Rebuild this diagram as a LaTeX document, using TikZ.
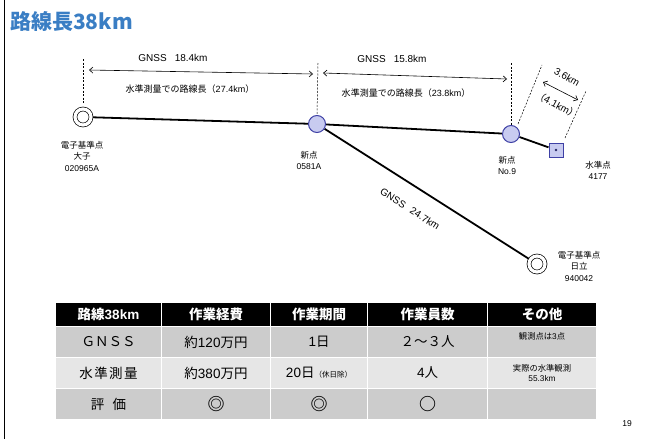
\documentclass[tikz,border=0pt]{standalone}
\usepackage{fontspec}
\setmainfont{Liberation Sans}
\newfontfamily\jp{Noto Sans CJK JP}
\usetikzlibrary{arrows.meta,backgrounds}
\definecolor{titleblue}{RGB}{58,126,196}
\definecolor{ptfill}{RGB}{200,203,240}
\definecolor{ptdraw}{RGB}{62,64,165}
\definecolor{rowA}{RGB}{204,204,204}
\definecolor{rowB}{RGB}{230,230,230}
\begin{document}
\begin{tikzpicture}[x=1pt,y=-1pt,
  gsr/.style={circle, draw=black, fill=white, line width=0.7pt, double=white, double distance=3.2pt, minimum size=16pt, inner sep=0pt},
  newpt/.style={circle, draw=ptdraw, fill=ptfill, line width=1pt, minimum size=17pt, inner sep=0pt},
  bmpt/.style={rectangle, draw=ptdraw, fill=ptfill, line width=1pt, minimum size=14pt, inner sep=0pt},
  bmdot/.style={circle, fill=ptdraw!60!black, minimum size=2.6pt, inner sep=0pt},
  route/.style={line width=1.8pt, black},
  lbl/.style={align=center, font=\fontsize{8.5}{11.5}\selectfont, inner sep=0pt},
  txt/.style={inner sep=0pt, font=\fontsize{10}{11}\selectfont},
  dim/.style={line width=0.6pt, {Straight Barb[length=3.5pt,width=6pt]}-{Straight Barb[length=3.5pt,width=6pt]}},
  guide/.style={line width=0.5pt, dash pattern=on 2pt off 1.5pt},
  cell/.style 2 args={draw=white, line width=1pt, minimum width=#1, minimum height=#2, inner sep=0pt, anchor=north west},
  hd/.style={text=white, font=\jp\bfseries\fontsize{13.5}{14}\selectfont},
  bd/.style={font=\jp\fontsize{13.5}{14}\selectfont},
  mk/.style={font=\jp\bfseries\fontsize{17}{17}\selectfont},
  sm/.style={align=center, font=\fontsize{8.3}{10.5}\selectfont}
]
\useasboundingbox (0,0) rectangle (652,439);
\draw[line width=1.6pt] (4.5,0) -- (4.5,439);

\node[anchor=west, inner sep=0pt, text=titleblue, font=\jp\bfseries\fontsize{21}{21}\selectfont] (title) at (10,22) {路線長38km};

% points
\node[gsr] (oogo) at (83,117) {};
\node[newpt] (p0581) at (317,124) {};
\node[newpt] (pno9) at (511,134) {};
\node[bmpt] (bm) at (556,150) {};
\node[bmdot] (bmd) at (bm.center) {};
\node[gsr] (hitachi) at (537,264) {};

\begin{pgfonlayer}{background}
\draw[route] (oogo) -- (p0581);
\draw[route] (p0581) -- (pno9);
\draw[route] (pno9) -- (bm);
\draw[route] (p0581) -- (hitachi);
\end{pgfonlayer}

% labels
\node[lbl] (loogo) at (82,156) {{\jp 電子基準点}\\{\jp 大子}\\020965A};
\node[lbl] (l0581) at (309,160.5) {{\jp 新点}\\0581A};
\node[lbl] (lno9) at (507,165.5) {{\jp 新点}\\No.9};
\node[lbl] (lbm) at (598,170.5) {{\jp 水準点}\\4177};
\node[lbl] (lhit) at (579,266) {{\jp 電子基準点}\\{\jp 日立}\\940042};

% guides
\coordinate (g1t) at (83,59);
\coordinate (g1b) at (83,104);
\coordinate (g2t) at (318,63);
\coordinate (g3t) at (511,63);
\draw[guide] (g1t) -- (g1b);
\draw[guide] (g2t) -- (p0581.north);
\draw[guide] (g3t) -- (pno9.north);
\coordinate (s1a) at (518,124);
\coordinate (s1b) at (542,65);
\coordinate (s2a) at (565,138);
\coordinate (s2b) at (586,91);
\draw[guide] (s1a) -- (s1b);
\draw[guide] (s2a) -- (s2b);

% dimension arrows
\coordinate (a1l) at (89,70);
\coordinate (a1r) at (313,74);
\coordinate (a2l) at (323,73);
\coordinate (a2r) at (507,79);
\coordinate (a3l) at (543,82);
\coordinate (a3r) at (578,100);
\draw[dim] (a1l) -- (a1r);
\draw[dim] (a2l) -- (a2r);
\draw[dim] (a3l) -- (a3r);

% dimension texts
\node[txt] (t1) at (173,58) {GNSS\hspace{8pt}18.4km};
\node[txt, font=\fontsize{9}{10}\selectfont] (t2) at (190,89) {{\jp 水準測量での路線長（}27.4km{\jp ）}};
\node[txt] (t3) at (392,59) {GNSS\hspace{8pt}15.8km};
\node[txt, font=\fontsize{9}{10}\selectfont] (t4) at (406,93) {{\jp 水準測量での路線長（}23.8km{\jp ）}};
\node[txt, rotate=-30] (t5) at (567,77) {3.6km};
\node[txt, rotate=-28] (t6) at (557,105) {{\jp （}4.1km{\jp ）}};
\node[txt, rotate=-32.4] (t7) at (410,209) {GNSS\hspace{7pt}24.7km};

% table header
\node[cell={106pt}{24pt}, fill=black] (h1) at (55,302) {};
\node[cell={109pt}{24pt}, fill=black] (h2) at (161,302) {};
\node[cell={97pt}{24pt}, fill=black] (h3) at (270,302) {};
\node[cell={120pt}{24pt}, fill=black] (h4) at (367,302) {};
\node[cell={109pt}{24pt}, fill=black] (h5) at (487,302) {};
\node[hd] (h1t) at (h1.center) {路線{\fontspec{Liberation Sans}\bfseries 38km}};
\node[hd] (h2t) at (h2.center) {作業経費};
\node[hd] (h3t) at (h3.center) {作業期間};
\node[hd] (h4t) at (h4.center) {作業員数};
\node[hd] (h5t) at (h5.center) {その他};
% row 1
\node[cell={106pt}{31pt}, fill=rowA] (r11) at (55,326) {};
\node[cell={109pt}{31pt}, fill=rowA] (r12) at (161,326) {};
\node[cell={97pt}{31pt}, fill=rowA] (r13) at (270,326) {};
\node[cell={120pt}{31pt}, fill=rowA] (r14) at (367,326) {};
\node[cell={109pt}{31pt}, fill=rowA] (r15) at (487,326) {};
\node[bd] (r11t) at (r11.center) {ＧＮＳＳ};
\node[bd] (r12t) at (r12.center) {約{\fontspec{Liberation Sans}120}万円};
\node[bd] (r13t) at (r13.center) {{\fontspec{Liberation Sans}1}日};
\node[bd] (r14t) at (r14.center) {２～３人};
\node[sm, anchor=north] (r15t) at ([yshift=-3pt]r15.north) {{\jp 観測点は}3{\jp 点}};
% row 2
\node[cell={106pt}{31pt}, fill=rowB] (r21) at (55,357) {};
\node[cell={109pt}{31pt}, fill=rowB] (r22) at (161,357) {};
\node[cell={97pt}{31pt}, fill=rowB] (r23) at (270,357) {};
\node[cell={120pt}{31pt}, fill=rowB] (r24) at (367,357) {};
\node[cell={109pt}{31pt}, fill=rowB] (r25) at (487,357) {};
\node[bd] (r21t) at (r21.center) {水\hspace{1.5pt}準\hspace{1.5pt}測\hspace{1.5pt}量};
\node[bd] (r22t) at (r22.center) {約{\fontspec{Liberation Sans}380}万円};
\node[bd] (r23t) at (r23.center) {{\fontspec{Liberation Sans}20}日{\fontsize{7.5}{8}\selectfont （休日除）}};
\node[bd] (r24t) at (r24.center) {{\fontspec{Liberation Sans}4}人};
\node[sm] (r25t) at (r25.center) {{\jp 実際の水準観測}\\55.3km};
% row 3
\node[cell={106pt}{31pt}, fill=rowA] (r31) at (55,388) {};
\node[cell={109pt}{31pt}, fill=rowA] (r32) at (161,388) {};
\node[cell={97pt}{31pt}, fill=rowA] (r33) at (270,388) {};
\node[cell={120pt}{31pt}, fill=rowA] (r34) at (367,388) {};
\node[cell={109pt}{31pt}, fill=rowA] (r35) at (487,388) {};
\node[bd] (r31t) at (r31.center) {評\hspace{0.6em}価};
\node[mk] (r32t) at (r32.center) {◎};
\node[mk] (r33t) at (r33.center) {◎};
\node[mk] (r34t) at (r34.center) {○};

\node[inner sep=0pt, font=\fontsize{8.5}{10}\selectfont] (pg) at (627,424) {19};
\end{tikzpicture}
\end{document}
